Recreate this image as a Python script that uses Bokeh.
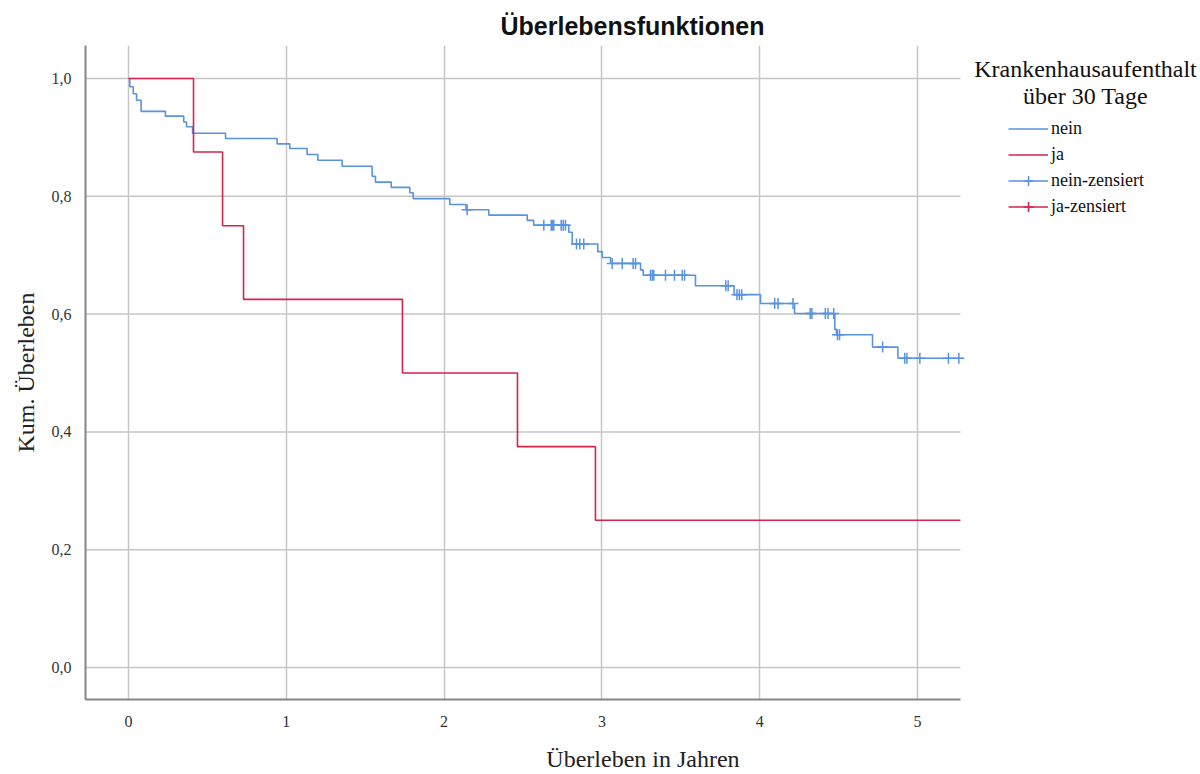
import numpy as np
from bokeh.plotting import figure
from bokeh.models import (Range1d, FixedTicker, CustomJSTickFormatter, Legend,
                          LegendItem, Label)
from bokeh.embed import file_html
from bokeh.resources import INLINE

# ---------------- data ----------------
# group "nein": event times (years) and survival after each event
nein_times = [0.008, 0.030, 0.051, 0.080, 0.234, 0.350, 0.368, 0.406, 0.615,
              0.942, 1.022, 1.132, 1.200, 1.354, 1.544, 1.565, 1.665, 1.783,
              1.804, 2.036, 2.139, 2.283, 2.527, 2.568, 2.790, 2.812, 2.974,
              3.002, 3.055, 3.245, 3.262, 3.593, 3.838, 4.005, 4.221, 4.476,
              4.487, 4.715, 4.876]
nein_surv = [0.986, 0.974, 0.963, 0.944, 0.936, 0.926, 0.918, 0.907, 0.898,
             0.889, 0.881, 0.871, 0.861, 0.851, 0.834, 0.824, 0.815, 0.806,
             0.796, 0.786, 0.777, 0.768, 0.759, 0.751, 0.739, 0.719, 0.706,
             0.696, 0.686, 0.675, 0.666, 0.648, 0.633, 0.618, 0.601, 0.574,
             0.565, 0.544, 0.525]
nein_censor_times = [2.146, 2.632, 2.679, 2.685, 2.695, 2.742, 2.755, 2.769,
                     2.839, 2.860, 2.885, 3.065, 3.129, 3.198, 3.213, 3.308,
                     3.319, 3.329, 3.403, 3.460, 3.509, 3.524, 3.785, 3.800,
                     3.856, 3.871, 3.886, 4.095, 4.116, 4.211, 4.320, 4.331,
                     4.416, 4.433, 4.469, 4.493, 4.506, 4.779, 4.919, 4.933,
                     5.015, 5.196, 5.262]
# group "ja" (no censored cases inside the shown range)
ja_times = [0.412, 0.596, 0.729, 1.736, 2.465, 2.959]
ja_surv = [0.875, 0.750, 0.625, 0.500, 0.375, 0.250]
ja_censor_times = [float("nan")]

x_ticks = [0, 1, 2, 3, 4, 5]
y_ticks = [0.0, 0.2, 0.4, 0.6, 0.8, 1.0]
x_lo, x_hi = -0.2725, 5.2725        # visible plotting area of the axes
y_lo, y_hi = -0.0542, 1.0559

title_text = "Überlebensfunktionen"
x_label = "Überleben in Jahren"
y_label = "Kum. Überleben"
legend_title = ["Krankenhausaufenthalt", "über 30 Tage"]
legend_labels = ["nein", "ja", "nein-zensiert", "ja-zensiert"]

BLUE = "#5893e0"
RED = "#d8234f"
GRID = "#c6c6c6"
SERIF = "Liberation Serif"

W, H = 1200, 774
LEFT, TOP, BOTTOM = 85, 45, 74
# frame runs to the right edge; the axes area ends at x_hi, the rest holds the legend
x_right = x_hi + (W - LEFT - (960 - 85)) * (x_hi - x_lo) / (960 - 85)

p = figure(width=W, height=H, output_backend="svg", toolbar_location=None,
           x_range=Range1d(x_lo, x_right), y_range=Range1d(y_lo, y_hi),
           min_border_left=LEFT, min_border_right=0, min_border_top=TOP,
           min_border_bottom=BOTTOM)
p.outline_line_color = None
p.background_fill_color = "white"

p.title.text = title_text
p.title.align = "left"
p.title.offset = 415
p.title.standoff = 11
p.title.text_font = "Liberation Sans"
p.title.text_font_style = "bold"
p.title.text_font_size = "25px"
p.title.text_color = "#111111"

# axes
p.xaxis.ticker = FixedTicker(ticks=x_ticks)
p.yaxis.ticker = FixedTicker(ticks=y_ticks)
p.yaxis.formatter = CustomJSTickFormatter(code="return tick.toFixed(1).replace('.', ',');")
p.xaxis.bounds = (x_lo, x_hi)
for ax in (p.xaxis[0], p.yaxis[0]):
    ax.axis_line_color = "#858585"
    ax.axis_line_width = 2
    ax.major_tick_line_color = None
    ax.minor_tick_line_color = None
    ax.major_label_text_font = SERIF
    ax.major_label_text_font_size = "16px"
    ax.major_label_text_color = "#333333"
    ax.axis_label_text_font = SERIF
    ax.axis_label_text_font_size = "24px"
    ax.axis_label_text_font_style = "normal"
    ax.axis_label_text_color = "#222222"
p.xaxis.axis_label = x_label
p.yaxis.axis_label = y_label
p.xaxis.major_label_standoff = 10
p.xaxis.axis_label_standoff = 16
p.yaxis.major_label_standoff = 8
p.yaxis.axis_label_standoff = 10

p.xgrid.grid_line_color = GRID
p.xgrid.grid_line_width = 1.5
p.ygrid.visible = False
# horizontal grid lines limited to the axes area
p.segment(x0=[x_lo] * len(y_ticks), y0=y_ticks, x1=[x_hi] * len(y_ticks), y1=y_ticks,
          line_color=GRID, line_width=1.5)

# curves
bx = [0.0] + nein_times + [x_hi]
by = [1.0] + nein_surv + [nein_surv[-1]]
rx = [0.0] + ja_times + [x_hi]
ry = [1.0] + ja_surv + [ja_surv[-1]]

blue_step = p.step(bx, by, mode="after", line_color=BLUE, line_width=1.6)
red_step = p.step(rx, ry, mode="after", line_color=RED, line_width=1.6)

idx = np.searchsorted(np.array(nein_times), np.array(nein_censor_times), side="right")
cy = np.concatenate([[1.0], np.array(nein_surv)])[idx]
blue_cross = p.scatter(nein_censor_times, list(cy), marker="cross", size=11,
                       line_color=BLUE, line_width=1.5)
red_cross = p.scatter(ja_censor_times, [float("nan")] * len(ja_censor_times),
                      marker="cross", size=11, line_color=RED, line_width=1.5)

legend = Legend(items=[
    LegendItem(label=legend_labels[0], renderers=[blue_step]),
    LegendItem(label=legend_labels[1], renderers=[red_step]),
    LegendItem(label=legend_labels[2], renderers=[blue_step, blue_cross]),
    LegendItem(label=legend_labels[3], renderers=[red_step, red_cross]),
], location=(923, 480))
legend.padding = 0
legend.margin = 0
legend.spacing = 1
legend.glyph_height = 25
legend.glyph_width = 40
legend.label_height = 25
legend.label_standoff = 3
legend.label_text_font = SERIF
legend.label_text_font_size = "18px"
legend.label_text_color = "#111111"
legend.border_line_color = None
legend.background_fill_alpha = 0
p.add_layout(legend)

# legend title (two centred lines)
for txt, yy in zip(legend_title, [631, 604]):
    p.add_layout(Label(x=1000, y=yy, x_units="screen", y_units="screen", text=txt,
                       text_align="center", text_baseline="middle", text_font=SERIF,
                       text_font_size="24px", text_color="#111111"))

open("out.html", "w").write(file_html(p, INLINE))
